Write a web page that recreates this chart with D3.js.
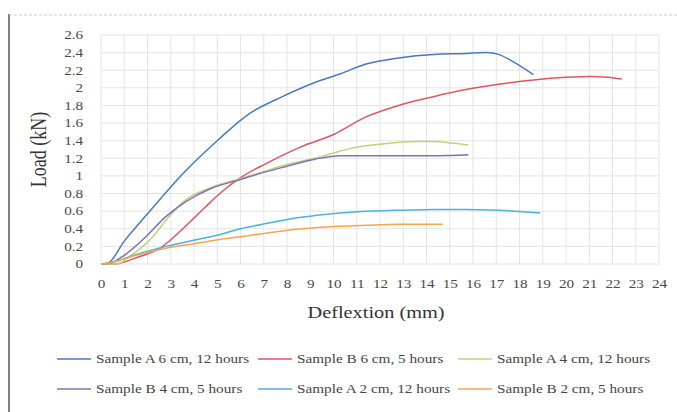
<!DOCTYPE html>
<html>
<head>
<meta charset="utf-8">
<script src="https://cdn.jsdelivr.net/npm/d3@7"></script>
<style>
  body { margin: 0; background: #fff; }
  svg { display: block; font-family: "Liberation Serif", "DejaVu Serif", serif; }
</style>
</head>
<body>
<div id="chart"></div>
<script>
// deflection (mm) / load (kN) pairs
const seriesNames = [
    "Sample A 6 cm, 12 hours", "Sample B 6 cm, 5 hours", "Sample A 4 cm, 12 hours",
    "Sample B 4 cm, 5 hours", "Sample A 2 cm, 12 hours", "Sample B 2 cm, 5 hours"
];
const seriesColors = ["#4a78c0", "#e05565", "#bfd27e", "#8070b8", "#4cb2d8", "#f6a54e"];

const a6 = [[0,0],[0.3,0.01],[1,0.26],[2,0.57],[3.5,1.02],[5,1.4],[6.4,1.71],[7.8,1.9],[9.2,2.06],
    [10.3,2.16],[11.4,2.27],[12.8,2.34],[14.3,2.38],[15.7,2.39],[16.6,2.4],[17.1,2.38],[17.7,2.3],[18.6,2.15]];
const b6 = [[0,0],[0.6,0],[1.5,0.07],[2.6,0.19],[3.6,0.42],[4.5,0.65],[5.2,0.82],[6,0.98],
    [7.1,1.14],[8.6,1.33],[10,1.47],[11.4,1.67],[12.8,1.8],[14.3,1.9],[15.7,1.98],[17.1,2.04],
    [18.6,2.09],[20,2.12],[21.1,2.13],[21.8,2.12],[22.4,2.1]];
const a4 = [[0,0],[0.7,0],[1.2,0.08],[2.2,0.3],[2.9,0.53],[3.6,0.72],[4.75,0.87],[6,0.97],
    [7,1.05],[8,1.13],[9.2,1.2],[10,1.26],[10.7,1.31],[12,1.36],[13.5,1.39],[14.3,1.39],[15.2,1.37],[15.8,1.35]];
const b4 = [[0,0],[0.4,0.01],[0.9,0.08],[1.9,0.3],[2.75,0.53],[3.6,0.7],[4.75,0.86],[6,0.96],[7,1.04],
    [8,1.11],[9.2,1.19],[10.3,1.23],[11.5,1.23],[13,1.23],[14.5,1.23],[15.8,1.24]];
const a2 = [[0,0],[0.5,0.02],[1.4,0.1],[2.8,0.2],[4,0.27],[4.9,0.32],[6,0.4],[7.1,0.46],[8.6,0.53],
    [10.3,0.58],[11.4,0.6],[12.8,0.61],[14.3,0.62],[15.7,0.62],[17.1,0.61],[18.9,0.58]];
const b2 = [[0,0],[0.5,0.02],[1.4,0.09],[2.8,0.18],[4,0.23],[4.9,0.27],[6,0.31],[7.1,0.35],[8.6,0.4],
    [10.3,0.43],[11.4,0.44],[12.8,0.45],[13.8,0.45],[14.7,0.45]];
const seriesValues = [a6, b6, a4, b4, a2, b2];

const xTicks = d3.range(0, 25, 1);
const yTicks = d3.range(0, 2.61, 0.2).map(v => +v.toFixed(1));

const W = 677, H = 412;
const SX = 1.27;   // the scanned figure is stretched sideways; text follows it

const svg = d3.select("#chart").append("svg")
    .attr("width", W).attr("height", H)
    .attr("viewBox", `0 0 ${W} ${H}`);

// chart frame (scanned figure border)
svg.append("line").attr("x1", 9).attr("x2", 9).attr("y1", 14).attr("y2", H)
    .attr("stroke", "#555").attr("stroke-width", 1.5);
svg.append("line").attr("x1", 9).attr("x2", W).attr("y1", 15).attr("y2", 15)
    .attr("stroke", "#ccc").attr("stroke-width", 1).attr("stroke-dasharray", "3,2");

const x = d3.scaleLinear().domain([0, 24]).range([101, 659]);
const y = d3.scaleLinear().domain([0, 2.6]).range([264, 35]);

// gridlines
const grid = svg.append("g").attr("stroke", "#e4e4e4").attr("stroke-width", 1);
grid.selectAll(".gx").data(xTicks).join("line")
    .attr("x1", d => x(d)).attr("x2", d => x(d))
    .attr("y1", y(0)).attr("y2", y(2.6));
grid.selectAll(".gy").data(yTicks).join("line")
    .attr("x1", x(0)).attr("x2", x(24))
    .attr("y1", d => y(d)).attr("y2", d => y(d));

// axes: labels only, no domain line
const xAxis = svg.append("g").attr("transform", `translate(0,${y(0)})`)
    .call(d3.axisBottom(x).tickValues(xTicks).tickSize(0).tickPadding(15).tickFormat(d3.format("d")));
const yAxis = svg.append("g").attr("transform", `translate(${x(0)},0)`)
    .call(d3.axisLeft(y).tickValues(yTicks).tickSize(0).tickPadding(14).tickFormat(d => String(d)));
for (const ax of [xAxis, yAxis]) {
    ax.select(".domain").remove();
    ax.selectAll("text").attr("font-family", "Liberation Serif, serif")
        .attr("font-size", 12).attr("fill", "#4a4a4a")
        .attr("transform", `scale(${SX},1)`);
}

// series
const line = d3.line().x(d => x(d[0])).y(d => y(d[1])).curve(d3.curveMonotoneX);
svg.append("g").selectAll("path").data(seriesValues).join("path")
    .attr("d", line).attr("fill", "none")
    .attr("stroke", (d, i) => seriesColors[i])
    .attr("stroke-width", 1.5).attr("stroke-linejoin", "round");

// axis titles
svg.append("text").attr("transform", `translate(46,${(y(0) + y(2.6)) / 2}) rotate(-90) scale(1,${SX})`)
    .attr("text-anchor", "middle").attr("font-size", 18).attr("fill", "#333").text("Load (kN)");
svg.append("text").attr("transform", `translate(376,318) scale(${SX},1)`)
    .attr("text-anchor", "middle").attr("font-size", 16).attr("fill", "#333").text("Deflextion (mm)");

// legend, 3 columns x 2 rows
const legCols = [57, 258, 458];
const legRows = [363, 393];
const leg = svg.append("g").selectAll("g").data(seriesNames).join("g")
    .attr("transform", (d, i) => `translate(${legCols[i % 3]},${legRows[Math.floor(i / 3)]})`);
leg.append("line").attr("x1", 0).attr("x2", 34).attr("y1", -4).attr("y2", -4)
    .attr("stroke", (d, i) => seriesColors[i]).attr("stroke-width", 1.6);
leg.append("text").attr("transform", `translate(39,0) scale(${SX},1)`)
    .attr("font-size", 12).attr("fill", "#444").text(d => d);
</script>
</body>
</html>
